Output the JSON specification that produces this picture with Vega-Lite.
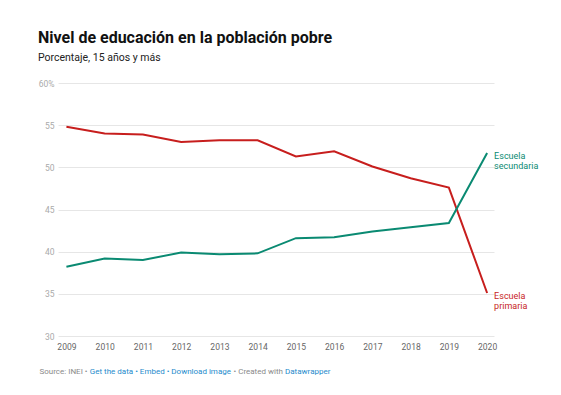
{
  "$schema": "https://vega.github.io/schema/vega-lite/v6.json",
  "autosize": {"type": "none"},
  "width": 436,
  "height": 253,
  "padding": {"left": 58, "top": 83, "right": 67, "bottom": 59},
  "background": "#ffffff",
  "title": {
    "text": "Nivel de educación en la población pobre",
    "subtitle": "Porcentaje, 15 años y más",
    "anchor": "start",
    "frame": "group",
    "dx": -20,
    "offset": 16,
    "font": "Roboto",
    "fontSize": 16,
    "fontWeight": "bold",
    "color": "#111111",
    "subtitleFont": "Roboto",
    "subtitleFontSize": 10.5,
    "subtitleColor": "#222222",
    "subtitlePadding": 7
  },
  "config": {
    "view": {"stroke": null},
    "font": "Roboto"
  },
  "data": {
    "values": [
      {"year": 2009, "serie": "primaria", "value": 54.8},
      {"year": 2010, "serie": "primaria", "value": 54.0},
      {"year": 2011, "serie": "primaria", "value": 53.9},
      {"year": 2012, "serie": "primaria", "value": 53.0},
      {"year": 2013, "serie": "primaria", "value": 53.2},
      {"year": 2014, "serie": "primaria", "value": 53.2},
      {"year": 2015, "serie": "primaria", "value": 51.3},
      {"year": 2016, "serie": "primaria", "value": 51.9},
      {"year": 2017, "serie": "primaria", "value": 50.1},
      {"year": 2018, "serie": "primaria", "value": 48.7},
      {"year": 2019, "serie": "primaria", "value": 47.6},
      {"year": 2020, "serie": "primaria", "value": 35.1, "label": "Escuela\nprimaria"},
      {"year": 2009, "serie": "secundaria", "value": 38.2},
      {"year": 2010, "serie": "secundaria", "value": 39.2},
      {"year": 2011, "serie": "secundaria", "value": 39.0},
      {"year": 2012, "serie": "secundaria", "value": 39.9},
      {"year": 2013, "serie": "secundaria", "value": 39.7},
      {"year": 2014, "serie": "secundaria", "value": 39.8},
      {"year": 2015, "serie": "secundaria", "value": 41.6},
      {"year": 2016, "serie": "secundaria", "value": 41.7},
      {"year": 2017, "serie": "secundaria", "value": 42.4},
      {"year": 2018, "serie": "secundaria", "value": 42.9},
      {"year": 2019, "serie": "secundaria", "value": 43.4},
      {"year": 2020, "serie": "secundaria", "value": 51.7, "label": "Escuela\nsecundaria"}
    ]
  },
  "resolve": {"axis": {"x": "independent", "y": "independent"}},
  "layer": [
    {
      "mark": {"type": "line", "strokeWidth": 2},
      "encoding": {
        "x": {
          "field": "year",
          "type": "quantitative",
          "scale": {"domain": [2008.78, 2020.18], "nice": false, "zero": false},
          "axis": {
            "orient": "bottom",
            "values": [2009, 2010, 2011, 2012, 2013, 2014, 2015, 2016, 2017, 2018, 2019, 2020],
            "format": "d",
            "grid": false,
            "domain": false,
            "ticks": false,
            "labelFontSize": 8.5,
            "labelColor": "#666666",
            "labelPadding": 6,
            "title": "Source: INEI •",
            "titleFont": "Roboto",
            "titleFontSize": 8,
            "titleFontWeight": "normal",
            "titleColor": "#8a8a8a",
            "titleAnchor": "start",
            "titleAlign": "left",
            "titleBaseline": "top",
            "titleX": -19,
            "titleY": 31
          }
        },
        "y": {
          "field": "value",
          "type": "quantitative",
          "scale": {"domain": [30, 60], "nice": false, "zero": false},
          "axis": {
            "orient": "left",
            "values": [30, 35, 40, 45, 50, 55, 60],
            "labelExpr": "datum.value == 60 ? '60%' : datum.label",
            "grid": true,
            "gridColor": "#e6e6e6",
            "gridWidth": 1,
            "domain": false,
            "ticks": false,
            "labelFontSize": 8.5,
            "labelColor": "#aaaaaa",
            "labelPadding": 4,
            "title": "Get the data • Embed • Download image",
            "titleFont": "Roboto",
            "titleFontSize": 8,
            "titleFontWeight": "normal",
            "titleColor": "#1e8bcc",
            "titleAngle": 0,
            "titleAnchor": "start",
            "titleAlign": "left",
            "titleBaseline": "top",
            "titleX": 31.3,
            "titleY": 284
          }
        },
        "color": {
          "field": "serie",
          "type": "nominal",
          "scale": {"domain": ["primaria", "secundaria"], "range": ["#c71e1d", "#0a8a72"]},
          "legend": null
        }
      }
    },
    {
      "transform": [{"filter": "datum.year == 2020"}],
      "mark": {"type": "text", "align": "left", "baseline": "top", "dx": 7, "dy": -1, "fontSize": 9, "lineHeight": 10, "lineBreak": "\n"},
      "encoding": {
        "x": {"field": "year", "type": "quantitative", "axis": null},
        "y": {"field": "value", "type": "quantitative", "axis": null},
        "text": {"field": "label"},
        "color": {
          "field": "serie",
          "type": "nominal",
          "scale": {"domain": ["primaria", "secundaria"], "range": ["#c71e1d", "#0a8a72"]},
          "legend": null
        }
      }
    },
    {
      "mark": {"type": "point", "opacity": 0},
      "encoding": {
        "x": {
          "field": "year",
          "type": "quantitative",
          "axis": {
            "orient": "top",
            "labels": false,
            "grid": false,
            "domain": false,
            "ticks": false,
            "title": "• Created with",
            "titleFont": "Roboto",
            "titleFontSize": 8,
            "titleFontWeight": "normal",
            "titleColor": "#8a8a8a",
            "titleAnchor": "start",
            "titleAlign": "left",
            "titleBaseline": "top",
            "titleX": 175,
            "titleY": 284
          }
        },
        "y": {
          "field": "value",
          "type": "quantitative",
          "axis": {
            "orient": "right",
            "labels": false,
            "grid": false,
            "domain": false,
            "ticks": false,
            "title": "Datawrapper",
            "titleFont": "Roboto",
            "titleFontSize": 8,
            "titleFontWeight": "normal",
            "titleColor": "#1e8bcc",
            "titleAngle": 0,
            "titleAnchor": "start",
            "titleAlign": "left",
            "titleBaseline": "top",
            "titleX": -209.5,
            "titleY": 284
          }
        }
      }
    }
  ]
}
